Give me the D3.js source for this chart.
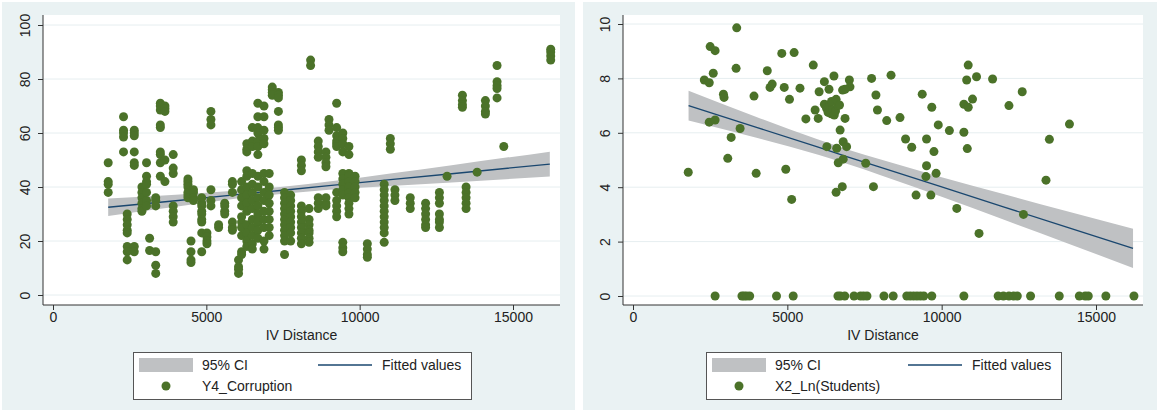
<!DOCTYPE html>
<html>
<head>
<meta charset="utf-8">
<script src="https://cdn.jsdelivr.net/npm/d3@7"></script>
<style>
  body { margin: 0; background: #fff; }
  svg { display: block; font-family: "Liberation Sans", Arial, sans-serif; }
  .tick text { font-size: 14px; fill: #222; }
</style>
</head>
<body>
<div id="chart"></div>
<script>
// left panel: Y4_Corruption, points grouped by distance value
var corrDist = [1800, 2300, 2420, 2650, 2900, 3050, 3150, 3350, 3500, 3650, 3920,
  4400, 4500, 4580, 4850, 5020, 5150, 5400, 5600, 5850, 6050,
  6150, 6320, 6500, 6680, 6880, 7050, 7150, 7350, 7550, 7750,
  8100, 8350, 8400, 8650, 8900, 9000, 9250, 9450, 9650, 9850,
  10250, 10800, 11000, 11150, 11650, 12150, 12600, 12850, 13350, 13470,
  13830, 14100, 14480, 14700, 16230];
var corrVals = [
  [49, 42, 41, 38],
  [66, 61, 60, 58.5, 53],
  [30, 28, 26, 24, 23, 18, 16, 13],
  [61, 60, 59, 53, 49, 48, 18, 16],
  [40, 38, 36, 34, 32, 31],
  [49, 44, 42, 41, 38, 35, 33],
  [21, 16.5],
  [16, 11, 8, 36, 35, 33],
  [71, 70, 68.5, 63, 62, 53, 52, 49, 44],
  [70, 69, 68, 50, 42],
  [52, 47, 45, 33, 31, 29, 27],
  [43, 42, 41, 40, 38, 37, 36],
  [20, 16, 13, 12],
  [39, 38, 36, 35],
  [36, 34, 33, 31, 30, 28, 27, 23, 16],
  [23, 21.5, 20, 19],
  [68, 65, 63, 39, 35, 33],
  [26, 25],
  [34, 33, 31, 30],
  [42, 41, 38, 27, 25, 24],
  [13, 10.5, 9.5, 8],
  [42, 39, 36, 33, 29, 27, 25, 22, 16, 15],
  [56, 54, 53, 46, 44, 40, 37, 34, 31, 26, 23, 20, 18],
  [62, 57, 55, 45, 41, 38, 35, 32, 28, 25, 22, 19, 17],
  [71, 66, 62, 60, 57, 55, 52, 44, 40, 36, 33, 30, 27, 24, 21],
  [70, 66, 61, 58, 56, 45, 42, 38, 35, 31, 28, 25, 20, 17],
  [45, 40, 37, 34, 31, 28, 25, 22],
  [77, 76, 75, 74],
  [75, 74, 73, 68, 63, 62, 61],
  [38, 36, 34, 32, 30, 28, 26, 24, 22, 20, 15],
  [37, 35, 33, 31, 29, 27, 25, 23, 20],
  [50, 48, 46, 33, 31, 29, 27, 25, 23, 21, 19],
  [32, 28, 26, 24, 23, 21, 19.5],
  [87, 85],
  [57, 55, 53, 51, 36, 34, 32],
  [53, 51, 49, 47.5, 36, 34, 33],
  [65, 63, 61],
  [71, 62, 59, 57, 56, 55, 38, 35, 33, 31, 29],
  [60, 58, 56, 53, 45, 43, 41, 39, 37, 19.5, 17.5, 16],
  [55, 52, 45, 44, 42, 40, 38, 36, 34, 32, 30],
  [44, 42, 40, 38, 36],
  [19, 17, 15, 14],
  [41, 39, 37, 35, 33, 31, 29, 27, 25, 23, 19.5],
  [58, 56, 54],
  [39, 37, 35],
  [36, 34, 32],
  [34, 32, 30, 28, 26, 25],
  [38, 36, 34, 30, 28, 27, 25],
  [44],
  [74, 72, 70.5, 69.5],
  [40, 38, 36, 34, 32],
  [45.5],
  [72, 70, 68, 67],
  [85, 79, 77.5, 76.5, 73],
  [55],
  [91, 90, 88.5, 87]
];
var corrFitX  = [1800, 4000, 6000, 7500, 9000, 11000, 13000, 16200];
var corrFit   = [32.5, 34.9, 37.2, 38.8, 40.5, 42.7, 44.9, 48.5];
var corrLo    = [29.3, 32.7, 35.7, 37.5, 39.0, 40.4, 41.7, 43.9];
var corrHi    = [35.7, 37.1, 38.7, 40.1, 42.0, 45.0, 48.1, 53.1];

// right panel: X2_Ln(Students)
var studX = [1790, 2310, 2470, 2500, 2660, 2600, 2470, 2660, 2930, 2950, 3070, 3180, 3360, 3340, 3470,
  3920, 3990, 4350, 4440, 4510, 4820, 4900, 4950, 5070, 5140, 5220, 5410, 5600, 5840, 5900, 6000, 6030,
  6200, 6200, 6270, 6320, 6360, 6420, 6470, 6520, 6560, 6640, 6430, 6350, 6510, 6580, 6690, 6280, 6600,
  6710, 6790, 6810, 6870, 6920, 6650, 6810, 6580, 6780, 7010, 7030, 6870, 7540, 7730, 7790, 7870, 7920,
  8220, 8360, 8650, 8830, 9030, 9170, 9370, 9510, 9510, 9490, 9680, 9650, 9750, 9820, 9890, 10250,
  10490, 10720, 10720, 10830, 10860, 10810, 10860, 11000, 11130, 11650, 12180, 12610, 13490, 13380,
  14140, 12650, 11210];
var studY = [4.55, 7.94, 7.84, 9.17, 9.02, 8.19, 6.39, 6.47, 7.42, 7.30, 5.06, 5.83, 9.86, 8.37, 6.16,
  7.35, 4.51, 8.28, 7.67, 7.79, 8.92, 7.67, 4.66, 7.23, 3.55, 8.95, 7.64, 6.51, 8.49, 6.84, 6.53, 7.51,
  7.88, 7.05, 6.9, 6.75, 6.95, 6.7, 6.85, 6.65, 6.8, 7.0, 7.15, 7.60, 8.09, 7.23, 7.02, 5.49, 5.43,
  6.10, 7.57, 5.67, 6.53, 5.49, 4.90, 5.03, 3.81, 4.02, 7.94, 7.69, 7.6, 4.88, 8.0, 4.02, 7.39, 6.84,
  6.45, 8.12, 6.56, 5.77, 5.47, 3.71, 7.42, 5.77, 4.79, 4.39, 6.94, 3.71, 5.31, 4.51, 6.29, 6.08,
  3.22, 6.02, 7.05, 5.42, 8.49, 7.94, 6.94, 7.24, 8.06, 7.98, 7.0, 7.51, 5.76, 4.26,
  6.32, 3.0, 2.3];
var studZeroX = [2660, 3530, 3600, 3680, 3780, 4650, 5190, 6640, 6720, 6860, 7160, 7370, 7470, 7580,
  8130, 8430, 8870, 8980, 9090, 9200, 9310, 9420, 9680, 10720, 11830, 12000, 12180, 12330, 12450,
  12880, 13810, 14460, 14650, 14750, 15320, 16230];
var studFitX = [1800, 4000, 6000, 7000, 8000, 10000, 12000, 14000, 16200];
var studFit  = [7.0, 6.20, 5.47, 5.10, 4.74, 4.01, 3.28, 2.55, 1.75];
var studLo   = [6.45, 5.82, 5.19, 4.83, 4.45, 3.65, 2.81, 1.97, 1.03];
var studHi   = [7.55, 6.58, 5.75, 5.37, 5.03, 4.37, 3.75, 3.13, 2.47];

var xTicks = [0, 5000, 10000, 15000];
var corrTicks = [0, 20, 40, 60, 80, 100];
var studTicks = [0, 2, 4, 6, 8, 10];

var dotColor = "#4b7229";
var bandColor = "#bfc1c3";
var lineColor = "#1a476f";

var svg = d3.select("#chart").append("svg")
  .attr("width", 1157)
  .attr("height", 418);

function drawPanel(p) {
  var g = svg.append("g");

  // outer background
  g.append("rect")
    .attr("x", p.bx).attr("y", 2)
    .attr("width", p.bw).attr("height", 408)
    .attr("fill", "#eaf2f3");

  // plot region
  g.append("rect")
    .attr("x", p.left).attr("y", 15)
    .attr("width", p.right - p.left).attr("height", 290)
    .attr("fill", "#fff");

  var x = d3.scaleLinear().domain([0, 15000]).range([p.x0, p.x15]);
  var y = d3.scaleLinear().domain([0, p.ymax]).range([p.y0, p.ytop]);

  // gridlines
  g.selectAll(null)
    .data(p.yTicks)
    .enter()
    .append("line")
    .attr("x1", p.left).attr("x2", p.right)
    .attr("y1", d => y(d)).attr("y2", d => y(d))
    .attr("stroke", "#e6eef0")
    .attr("stroke-width", 1);

  // CI band
  var band = p.fitX.map((d, i) => ({x: d, lo: p.lo[i], hi: p.hi[i], fit: p.fit[i]}));
  g.append("path")
    .datum(band)
    .attr("fill", bandColor)
    .attr("d", d3.area().x(d => x(d.x)).y0(d => y(d.lo)).y1(d => y(d.hi)).curve(d3.curveMonotoneX));

  // fitted line
  g.append("path")
    .datum(band)
    .attr("fill", "none")
    .attr("stroke", lineColor)
    .attr("stroke-width", 1.3)
    .attr("d", d3.line().x(d => x(d.x)).y(d => y(d.fit)));

  // points
  g.selectAll(null)
    .data(p.points)
    .enter()
    .append("circle")
    .attr("cx", d => x(d[0]))
    .attr("cy", d => y(d[1]))
    .attr("r", 4.5)
    .attr("fill", dotColor);

  // y axis
  var yAxis = g.append("g")
    .attr("transform", `translate(${p.left},0)`)
    .call(d3.axisLeft(y).tickValues(p.yTicks).tickSize(5).tickPadding(3));
  yAxis.select(".domain").remove();
  yAxis.selectAll(".tick line").attr("stroke", "#333");
  yAxis.selectAll(".tick text")
    .attr("transform", "rotate(-90)")
    .attr("x", 0).attr("y", -18)
    .attr("dy", "0.35em")
    .attr("text-anchor", "middle");
  g.append("line")
    .attr("x1", p.left).attr("x2", p.left)
    .attr("y1", 15).attr("y2", 305)
    .attr("stroke", "#333");

  // x axis
  var xAxis = g.append("g")
    .attr("transform", "translate(0,305)")
    .call(d3.axisBottom(x).tickValues(xTicks).tickSize(5).tickPadding(2).tickFormat(d3.format("d")));
  xAxis.select(".domain").remove();
  xAxis.selectAll(".tick line").attr("stroke", "#333");
  g.append("line")
    .attr("x1", p.left).attr("x2", p.right)
    .attr("y1", 305).attr("y2", 305)
    .attr("stroke", "#333");

  g.append("text")
    .attr("x", (p.left + p.right) / 2)
    .attr("y", 340)
    .attr("text-anchor", "middle")
    .attr("font-size", "14px")
    .attr("fill", "#222")
    .text("IV Distance");

  // legend
  var lg = g.append("g").attr("transform", `translate(${p.lgx},352)`);
  lg.append("rect")
    .attr("x", 0.5).attr("y", 0.5)
    .attr("width", p.lgw).attr("height", 47)
    .attr("fill", "#fff")
    .attr("stroke", "#555");
  lg.append("rect")
    .attr("x", 6).attr("y", 6)
    .attr("width", 54).attr("height", 14)
    .attr("fill", bandColor);
  lg.append("text")
    .attr("x", 69).attr("y", 18)
    .attr("font-size", "14px").attr("fill", "#222")
    .text("95% CI");
  lg.append("line")
    .attr("x1", p.lgc).attr("x2", p.lgc + 54)
    .attr("y1", 13).attr("y2", 13)
    .attr("stroke", lineColor).attr("stroke-width", 1.3);
  lg.append("text")
    .attr("x", p.lgc + 64).attr("y", 18)
    .attr("font-size", "14px").attr("fill", "#222")
    .text("Fitted values");
  lg.append("circle")
    .attr("cx", 33).attr("cy", 34)
    .attr("r", 4.5)
    .attr("fill", dotColor);
  lg.append("text")
    .attr("x", 69).attr("y", 39)
    .attr("font-size", "14px").attr("fill", "#222")
    .text(p.name);
}

var corrPoints = [];
corrDist.forEach(function(d, i) {
  corrVals[i].forEach(function(v) { corrPoints.push([d, v]); });
});

var studPoints = studX.map((d, i) => [d, studY[i]]);
studZeroX.forEach(function(d) { studPoints.push([d, 0]); });

drawPanel({
  bx: 2, bw: 573, left: 43, right: 560,
  x0: 53, x15: 513, y0: 295, ytop: 25, ymax: 100,
  yTicks: corrTicks, points: corrPoints,
  fitX: corrFitX, fit: corrFit, lo: corrLo, hi: corrHi,
  lgx: 133, lgw: 338, lgc: 185, name: "Y4_Corruption"
});

drawPanel({
  bx: 583, bw: 574, left: 623, right: 1143,
  x0: 633, x15: 1096, y0: 296, ytop: 24, ymax: 10,
  yTicks: studTicks, points: studPoints,
  fitX: studFitX, fit: studFit, lo: studLo, hi: studHi,
  lgx: 706, lgw: 355, lgc: 202, name: "X2_Ln(Students)"
});
</script>
</body>
</html>
